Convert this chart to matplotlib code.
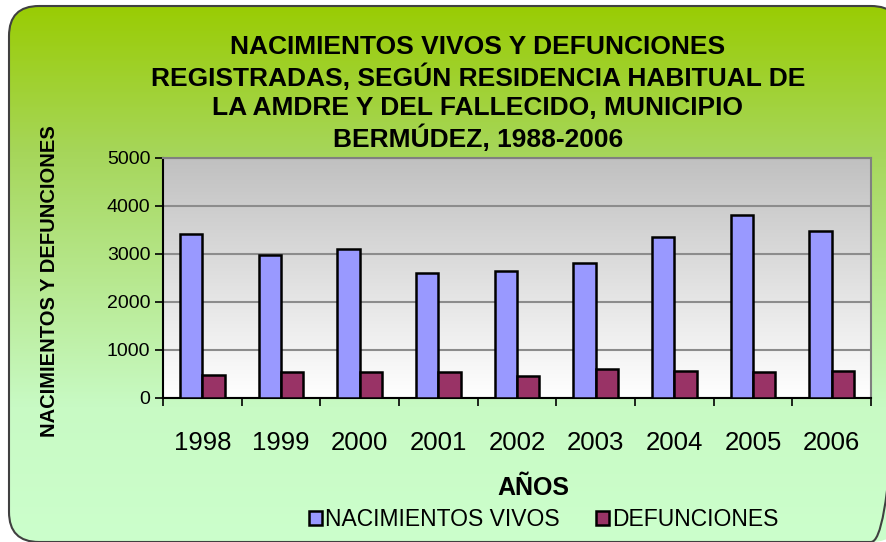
import numpy as np
import matplotlib
matplotlib.use("Agg")
import matplotlib.pyplot as plt
from matplotlib.patches import FancyBboxPatch
from matplotlib.colors import LinearSegmentedColormap

plt.rcParams['font.family'] = ['Liberation Sans', 'DejaVu Sans']

years = ['1998', '1999', '2000', '2001', '2002', '2003', '2004', '2005', '2006']
nacimientos = [3410, 2980, 3090, 2600, 2640, 2800, 3355, 3820, 3470]
defunciones = [470, 535, 535, 535, 445, 605, 555, 535, 555]

title_lines = ['NACIMIENTOS VIVOS Y DEFUNCIONES',
               'REGISTRADAS, SEGÚN RESIDENCIA HABITUAL DE',
               'LA AMDRE Y DEL FALLECIDO, MUNICIPIO',
               'BERMÚDEZ, 1988-2006']

W, H = 886, 542
fig = plt.figure(figsize=(W / 100, H / 100), dpi=100)
fig.patch.set_facecolor('white')

# background rounded box with green gradient
bg = fig.add_axes([0, 0, 1, 1])
bg.set_xlim(0, W)
bg.set_ylim(H, 0)
bg.axis('off')
green = LinearSegmentedColormap.from_list('g', [(0, '#99cc00'), (0.28, '#a6d65a'),
                                               (0.75, '#c8fac4'), (1, '#ccffcc')])
grad = np.linspace(0, 1, 256).reshape(-1, 1)
im = bg.imshow(grad, cmap=green, extent=[0, W, H, 0], aspect='auto')
box = FancyBboxPatch((9, 6), 892, 536, boxstyle='round,pad=0,rounding_size=30',
                     fc='none', ec='#404040', lw=1.5)
bg.add_patch(box)
im.set_clip_path(box)

# plot area
ax = fig.add_axes([163 / W, 1 - 397.5 / H, (871 - 163) / W, (397.5 - 158) / H])
ax.set_facecolor('none')
x = np.arange(len(years))
ax.set_xlim(-0.5, len(years) - 0.5)
ax.set_ylim(0, 5000)
gray = LinearSegmentedColormap.from_list('gr', ['#ffffff', '#c0c0c0'])
ax.imshow(np.linspace(0, 1, 256).reshape(-1, 1), cmap=gray, origin='lower',
          extent=[-0.5, len(years) - 0.5, 0, 5000], aspect='auto', zorder=0)

ax.set_yticks([0, 1000, 2000, 3000, 4000, 5000])
ax.yaxis.grid(True, color='#8c8c8c', lw=1.5, zorder=1)
ax.set_axisbelow(True)

w = 0.286
ax.bar(x - w / 2, nacimientos, w, color='#9999ff', edgecolor='black', lw=1.8,
       zorder=3, label='NACIMIENTOS VIVOS')
ax.bar(x + w / 2, defunciones, w, color='#993366', edgecolor='black', lw=1.8,
       zorder=3, label='DEFUNCIONES')

ax.set_xticks(x)
ax.set_xticklabels(years, fontsize=18.5)
ax.tick_params(axis='x', length=0, pad=24)
ax.set_xticks(np.arange(-0.5, len(years)), minor=True)
ax.tick_params(axis='x', which='minor', length=6, width=1.2, direction='out')
ax.tick_params(axis='y', labelsize=14, length=6, width=1.2, pad=3)

for s in ['top', 'right']:
    ax.spines[s].set_color('#808080')
    ax.spines[s].set_linewidth(1.5)
for s in ['left', 'bottom']:
    ax.spines[s].set_color('black')
    ax.spines[s].set_linewidth(1.5)

def px(xp, yp):
    return xp / W, 1 - yp / H

for i, line in enumerate(title_lines):
    fig.text(*px(478, 47 + i * 30.5), line, ha='center', va='center',
             fontsize=19, fontweight='bold')

fig.text(*px(50, 281), 'NACIMIENTOS Y DEFUNCIONES', rotation=90, ha='center',
         va='center', fontsize=14.5, fontweight='bold')
fig.text(*px(533, 488), 'AÑOS', ha='center', va='center', fontsize=18,
         fontweight='bold')

handles, labels = ax.get_legend_handles_labels()
leg = fig.legend(handles, labels, loc='center', bbox_to_anchor=px(544, 520), ncol=2,
                 frameon=False, fontsize=16.5, handlelength=0.55, handleheight=0.55,
                 handletextpad=0.15, columnspacing=1.6, borderpad=0)

fig.savefig('out.png', dpi=100)
